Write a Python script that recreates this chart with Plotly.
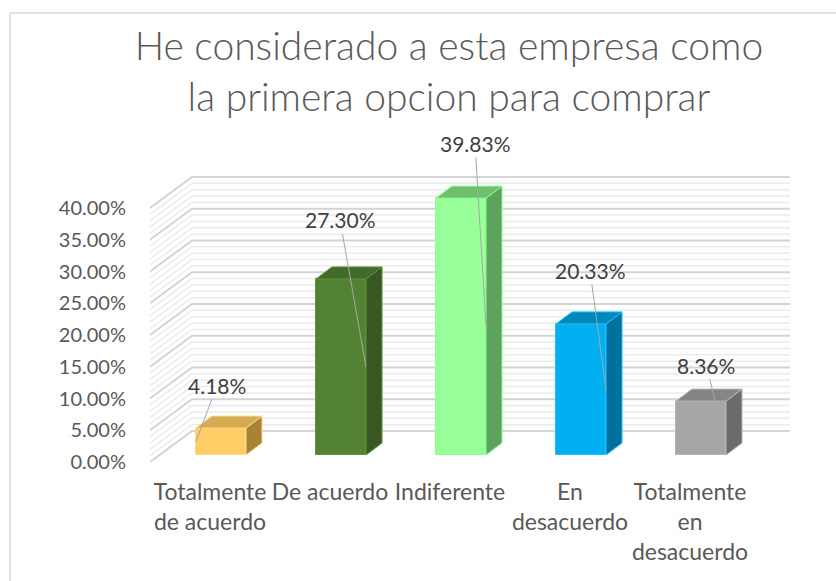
import numpy as np
import plotly.graph_objects as go

# ---------------- data ----------------
categories = ["Totalmente<br>de acuerdo", "De acuerdo", "Indiferente",
              "En<br>desacuerdo", "Totalmente<br>en<br>desacuerdo"]
values = [0.0418, 0.2730, 0.3983, 0.2033, 0.0836]
value_labels = ["4.18%", "27.30%", "39.83%", "20.33%", "8.36%"]
tick_values = [0, 0.05, 0.10, 0.15, 0.20, 0.25, 0.30, 0.35, 0.40]
tick_labels = ["0.00%", "5.00%", "10.00%", "15.00%", "20.00%", "25.00%",
               "30.00%", "35.00%", "40.00%"]
title_text = "He considerado a esta empresa como<br>la primera opcion para comprar"

# ---------------- styles ----------------
front_colors = ["#FFCC66", "#548235", "#99FF99", "#00B0F0", "#A6A6A6"]
top_colors = ["#D6AA50", "#426A2A", "#70BF6F", "#0088BC", "#858585"]
side_colors = ["#A88235", "#385723", "#5EA35D", "#00719C", "#6B6B6B"]
edge_colors = ["#FFD98A", "#5E9139", "#88FF88", "#1FC0FF", "#B5B5B5"]

FONT = "Lato"
NUMFONT = "Lato"
TXT = "#595959"
BAR_SHIFT = 0.0917     # front face centre relative to category
BAR_W = 0.4167
DEPTH_X = 0.1333       # bar depth offset (x units)
DEPTH_Y = 0.0186       # bar depth offset (y2 units)
WALL_X = 0.35          # wall depth offset (x units)
WALL_Y = 0.0488        # wall depth offset (y units)
X0 = -0.5
X1 = 4.8333

# leader line targets / label offsets (px)
tgt_dx = [-BAR_W / 2, BAR_W / 2, BAR_W / 2, BAR_W / 2, 0.12]
tgt_frac = [0.5, 0.5, 0.5, 0.5, 0.98]
lbl_ax = [21, -26, -11, -16, -9]
lbl_ay = [-56, -147, -183, -119, -37]

fig = go.Figure()

# ---------------- walls / gridlines (on y) ----------------
maj_x, maj_y, min_x, min_y = [], [], [], []
for k in range(0, 41):
    v = k / 100.0
    xs = [X0, X0 + WALL_X, X1, None]
    ys = [v, v + WALL_Y, v + WALL_Y, None]
    if k % 5 == 0:
        maj_x += xs; maj_y += ys
    else:
        min_x += xs; min_y += ys
fig.add_trace(go.Scatter(x=min_x, y=min_y, mode="lines", yaxis="y",
                         line=dict(color="#EBEBEB", width=1.5),
                         hoverinfo="skip", showlegend=False))
fig.add_trace(go.Scatter(x=maj_x, y=maj_y, mode="lines", yaxis="y",
                         line=dict(color="#D4D4D4", width=2),
                         hoverinfo="skip", showlegend=False))

# ---------------- bars (on y2) ----------------
xc = [i + BAR_SHIFT for i in range(len(values))]
fig.add_trace(go.Bar(x=xc, y=values, width=BAR_W, yaxis="y2",
                     marker=dict(color=front_colors,
                                 line=dict(color=edge_colors, width=1)),
                     hoverinfo="skip", showlegend=False))

for i, v in enumerate(values):
    xl = xc[i] - BAR_W / 2
    xr = xc[i] + BAR_W / 2
    # side face
    fig.add_trace(go.Scatter(
        x=[xr, xr + DEPTH_X, xr + DEPTH_X, xr, xr],
        y=[0, DEPTH_Y, v + DEPTH_Y, v, 0],
        fill="toself", fillcolor=side_colors[i], mode="lines",
        line=dict(color=edge_colors[i], width=1), yaxis="y2",
        hoverinfo="skip", showlegend=False))
    # top face
    fig.add_trace(go.Scatter(
        x=[xl, xl + DEPTH_X, xr + DEPTH_X, xr, xl],
        y=[v, v + DEPTH_Y, v + DEPTH_Y, v, v],
        fill="toself", fillcolor=top_colors[i], mode="lines",
        line=dict(color=edge_colors[i], width=1), yaxis="y2",
        hoverinfo="skip", showlegend=False))

# ---------------- data labels with leader lines ----------------
annotations = []
for i, v in enumerate(values):
    annotations.append(dict(
        x=xc[i] + tgt_dx[i], y=v * tgt_frac[i], xref="x", yref="y2",
        text=value_labels[i], showarrow=True, arrowhead=0, arrowwidth=1,
        arrowcolor="#A6A6A6", standoff=0, ax=lbl_ax[i], ay=lbl_ay[i],
        font=dict(family=FONT, size=21, color="#404040")))

shapes = [
    dict(type="line", xref="paper", yref="paper", x0=-0.21875, x1=-0.21875,
         y0=1.5377, y1=-0.5, line=dict(color="#D9D9D9", width=1.5)),
    dict(type="line", xref="paper", yref="paper", x0=-0.21875, x1=1.2,
         y0=1.5377, y1=1.5377, line=dict(color="#D9D9D9", width=1.5)),
]

fig.update_layout(
    width=836, height=581, autosize=False,
    margin=dict(l=150, r=46, t=170, b=119),
    paper_bgcolor="white", plot_bgcolor="rgba(0,0,0,0)",
    title=dict(text=title_text, x=0.537, xanchor="center",
               y=0.8967, yanchor="middle", yref="container",
               font=dict(family=FONT, size=39, color=TXT, weight=300)),
    xaxis=dict(range=[X0, X1], tickmode="array",
               tickvals=list(range(len(categories))), ticktext=categories,
               showgrid=False, zeroline=False, showline=False, ticks="",
               ticklabelstandoff=14,
               tickfont=dict(family=FONT, size=23, color=TXT)),
    yaxis=dict(range=[0, 0.45984], tickmode="array", tickvals=tick_values,
               ticktext=tick_labels, showgrid=False, zeroline=False,
               showline=False, ticks="", ticklabelstandoff=23,
               tickfont=dict(family=NUMFONT, size=20, color=TXT)),
    yaxis2=dict(range=[-0.01085, 0.4419], overlaying="y", visible=False),
    annotations=annotations, shapes=shapes,
    bargap=0,
)

fig.write_html("out.html", config={"displayModeBar": False},
               post_script="document.body.style.margin='0';")
